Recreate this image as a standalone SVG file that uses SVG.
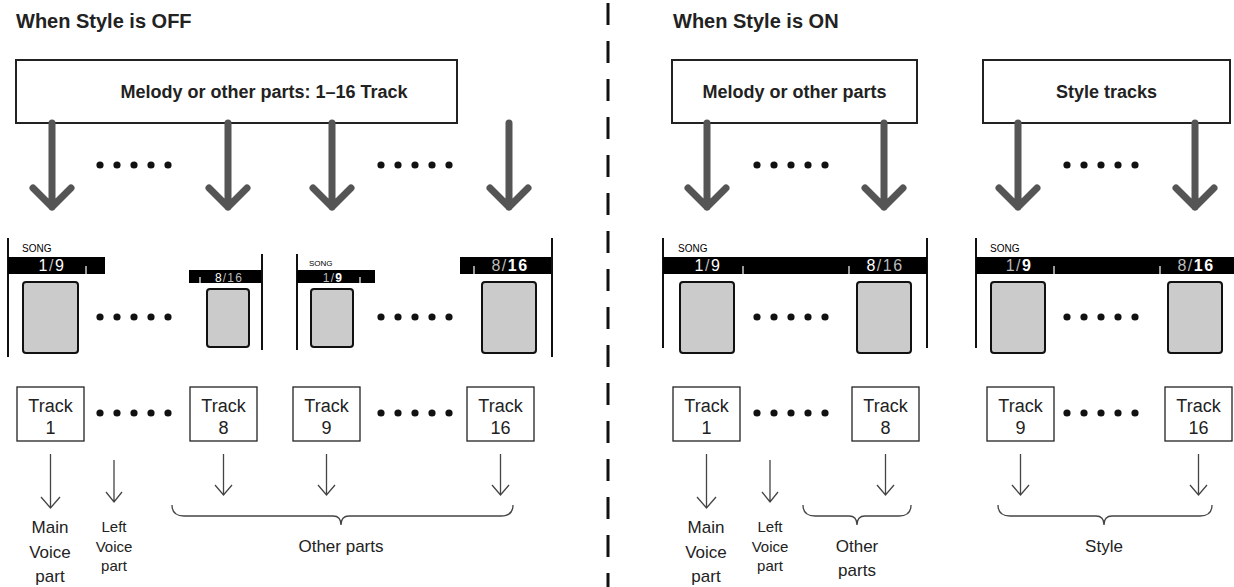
<svg xmlns="http://www.w3.org/2000/svg" width="1234" height="587" viewBox="0 0 1234 587">
<style>
text{font-family:"Liberation Sans",Arial,sans-serif;fill:#222}
.title{font-size:20px;font-weight:bold}
.hdr{font-size:18px;font-weight:bold}
.box{fill:#fff;stroke:#222;stroke-width:2}
.big{fill:none;stroke:#555;stroke-width:7;stroke-linecap:round;stroke-linejoin:round}
.thin{fill:none;stroke:#444;stroke-width:1.3}
.vl{stroke:#111;stroke-width:2}
.bar{fill:#000}
.tick{stroke:#fff;stroke-width:1.2}
.scr{fill:#cbcbcb;stroke:#111;stroke-width:2}
.song{font-size:10px;fill:#000}
.song.s{font-size:8px}
.num{font-size:16px;fill:#bbb;text-anchor:middle;letter-spacing:1.5px}
.num.s{font-size:12px;letter-spacing:1.2px}
.w{fill:#fff}
.b{fill:#fff;font-weight:bold}
.trk{fill:#fff;stroke:#222;stroke-width:1.3}
.tt{font-size:18px;text-anchor:middle}
.lab{font-size:17px;text-anchor:middle}
.lab2{font-size:15px;text-anchor:middle}
.dot{fill:#111}
</style>
<defs>
<g id="dots"><circle cx="0" cy="0" r="3.6"/><circle cx="17" cy="0" r="3.6"/><circle cx="34" cy="0" r="3.6"/><circle cx="51" cy="0" r="3.6"/><circle cx="68" cy="0" r="3.6"/></g>
</defs>
<line x1="608" y1="3" x2="608" y2="587" stroke="#111" stroke-width="3" stroke-dasharray="22 16"/>
<text class="title" x="16" y="28">When Style is OFF</text>
<text class="title" x="673" y="28">When Style is ON</text>

<g id="src-off"><rect class="box" x="16" y="60" width="441" height="63"/><text class="hdr" x="264" y="98" text-anchor="middle">Melody or other parts: 1–16 Track</text></g>
<g id="src-melody"><rect class="box" x="672" y="60" width="245" height="63"/><text class="hdr" x="794.5" y="98" text-anchor="middle">Melody or other parts</text></g>
<g id="src-style"><rect class="box" x="983" y="60" width="247" height="63"/><text class="hdr" x="1106.5" y="98" text-anchor="middle">Style tracks</text></g>

<g id="dots-groups" class="dot">
<use href="#dots" x="100" y="165"/><use href="#dots" x="381" y="165"/><use href="#dots" x="757" y="165"/><use href="#dots" x="1067" y="165"/>
<use href="#dots" x="100" y="317"/><use href="#dots" x="381" y="317"/><use href="#dots" x="757" y="317"/><use href="#dots" x="1067" y="317"/>
<use href="#dots" x="100" y="413"/><use href="#dots" x="381" y="413"/><use href="#dots" x="757" y="413"/><use href="#dots" x="1067" y="413"/>
</g>

<g id="panel1">
<line class="vl" x1="8" y1="238" x2="8" y2="357"/>
<text class="song" x="22" y="252">SONG</text>
<rect class="bar" x="8" y="257" width="97" height="17"/>
<line class="tick" x1="86" y1="266" x2="86" y2="274"/>
<text class="num" x="52" y="271"><tspan class="w">1</tspan>/<tspan class="w">9</tspan></text>
<rect class="scr" x="23" y="282" width="55" height="71" rx="3"/>
</g>
<g id="panel2">
<rect class="bar" x="189" y="270" width="73" height="13"/>
<line class="vl" x1="262" y1="254" x2="262" y2="350"/>
<line class="tick" x1="200" y1="277" x2="200" y2="283"/>
<text class="num s" x="229" y="282"><tspan class="w">8</tspan>/16</text>
<rect class="scr" x="207" y="289" width="42" height="58" rx="3"/>
</g>
<g id="panel3">
<line class="vl" x1="297" y1="254" x2="297" y2="350"/>
<text class="song s" x="309" y="266">SONG</text>
<rect class="bar" x="297" y="270" width="78" height="13"/>
<line class="tick" x1="360" y1="277" x2="360" y2="283"/>
<text class="num s" x="333" y="282">1/<tspan class="b">9</tspan></text>
<rect class="scr" x="311" y="289" width="42" height="58" rx="3"/>
</g>
<g id="panel4">
<rect class="bar" x="460" y="257" width="92" height="17"/>
<line class="vl" x1="552" y1="238" x2="552" y2="357"/>
<line class="tick" x1="474" y1="266" x2="474" y2="274"/>
<text class="num" x="510" y="271">8/<tspan class="b">16</tspan></text>
<rect class="scr" x="482" y="282" width="54" height="71" rx="3"/>
</g>
<g id="panel5">
<line class="vl" x1="663" y1="238" x2="663" y2="348"/>
<line class="vl" x1="927" y1="238" x2="927" y2="348"/>
<text class="song" x="678" y="252">SONG</text>
<rect class="bar" x="663" y="257" width="264" height="17"/>
<line class="tick" x1="743" y1="266" x2="743" y2="274"/>
<line class="tick" x1="849" y1="266" x2="849" y2="274"/>
<text class="num" x="708" y="271"><tspan class="w">1</tspan>/<tspan class="w">9</tspan></text>
<text class="num" x="885" y="271"><tspan class="w">8</tspan>/16</text>
<rect class="scr" x="680" y="282" width="54" height="71" rx="3"/>
<rect class="scr" x="857" y="282" width="54" height="71" rx="3"/>
</g>
<g id="panel6">
<line class="vl" x1="976" y1="238" x2="976" y2="348"/>
<text class="song" x="990" y="252">SONG</text>
<rect class="bar" x="976" y="257" width="258" height="17"/>
<line class="tick" x1="1054" y1="266" x2="1054" y2="274"/>
<line class="tick" x1="1160" y1="266" x2="1160" y2="274"/>
<text class="num" x="1019" y="271">1/<tspan class="b">9</tspan></text>
<text class="num" x="1196" y="271">8/<tspan class="b">16</tspan></text>
<rect class="scr" x="991" y="282" width="54" height="71" rx="3"/>
<rect class="scr" x="1168" y="282" width="54" height="71" rx="3"/>
</g>

<g id="track1-off"><rect class="trk" x="17" y="387" width="67" height="54"/><text class="tt" x="50.5" y="412">Track</text><text class="tt" x="50.5" y="434">1</text></g>
<g id="track8-off"><rect class="trk" x="190" y="387" width="67" height="54"/><text class="tt" x="223.5" y="412">Track</text><text class="tt" x="223.5" y="434">8</text></g>
<g id="track9-off"><rect class="trk" x="293" y="387" width="67" height="54"/><text class="tt" x="326.5" y="412">Track</text><text class="tt" x="326.5" y="434">9</text></g>
<g id="track16-off"><rect class="trk" x="467" y="387" width="67" height="54"/><text class="tt" x="500.5" y="412">Track</text><text class="tt" x="500.5" y="434">16</text></g>
<g id="track1-on"><rect class="trk" x="673" y="387" width="67" height="54"/><text class="tt" x="706.5" y="412">Track</text><text class="tt" x="706.5" y="434">1</text></g>
<g id="track8-on"><rect class="trk" x="852" y="387" width="67" height="54"/><text class="tt" x="885.5" y="412">Track</text><text class="tt" x="885.5" y="434">8</text></g>
<g id="track9-on"><rect class="trk" x="987" y="387" width="67" height="54"/><text class="tt" x="1020.5" y="412">Track</text><text class="tt" x="1020.5" y="434">9</text></g>
<g id="track16-on"><rect class="trk" x="1165" y="387" width="67" height="54"/><text class="tt" x="1198.5" y="412">Track</text><text class="tt" x="1198.5" y="434">16</text></g>

<g id="connectors">
<g class="big">
<path d="M52 123V207M33 188L52 207L71 188"/>
<path d="M228 123V207M209 188L228 207L247 188"/>
<path d="M332 123V207M313 188L332 207L351 188"/>
<path d="M509 123V207M490 188L509 207L528 188"/>
<path d="M707 123V207M688 188L707 207L726 188"/>
<path d="M884 123V207M865 188L884 207L903 188"/>
<path d="M1018 123V207M999 188L1018 207L1037 188"/>
<path d="M1195 123V207M1176 188L1195 207L1214 188"/>
</g>
<g class="thin">
<path d="M50.5 454V508M41 497L50.5 508L60 497"/>
<path d="M114 460V502M106 492L114 502L122 492"/>
<path d="M223.5 454V495M215 485L223.5 495L232 485"/>
<path d="M326.5 454V495M318 485L326.5 495L335 485"/>
<path d="M500.5 454V495M492 485L500.5 495L509 485"/>
<path d="M706.5 454V508M697 497L706.5 508L716 497"/>
<path d="M770 460V502M762 492L770 502L778 492"/>
<path d="M885.5 454V495M877 485L885.5 495L894 485"/>
<path d="M1020.5 454V495M1012 485L1020.5 495L1029 485"/>
<path d="M1198.5 454V495M1190 485L1198.5 495L1207 485"/>
<path d="M172 505Q172 516 184 516H333Q341 516 341 525Q341 516 349 516H501Q513 516 513 505"/>
<path d="M803 505Q803 516 815 516H849Q857 516 857 525Q857 516 865 516H899Q911 516 911 505"/>
<path d="M998 505Q998 516 1010 516H1096Q1104 516 1104 525Q1104 516 1112 516H1200Q1212 516 1212 505"/>
</g>
</g>

<g id="labels">
<text class="lab" x="50" y="533">Main</text><text class="lab" x="50" y="558">Voice</text><text class="lab" x="50" y="582">part</text>
<text class="lab2" x="114" y="532">Left</text><text class="lab2" x="114" y="552">Voice</text><text class="lab2" x="114" y="571">part</text>
<text class="lab" x="341" y="552">Other parts</text>
<text class="lab" x="706" y="533">Main</text><text class="lab" x="706" y="558">Voice</text><text class="lab" x="706" y="582">part</text>
<text class="lab2" x="770" y="532">Left</text><text class="lab2" x="770" y="552">Voice</text><text class="lab2" x="770" y="571">part</text>
<text class="lab" x="857" y="552">Other</text><text class="lab" x="857" y="576">parts</text>
<text class="lab" x="1104" y="552">Style</text>
</g>
</svg>
